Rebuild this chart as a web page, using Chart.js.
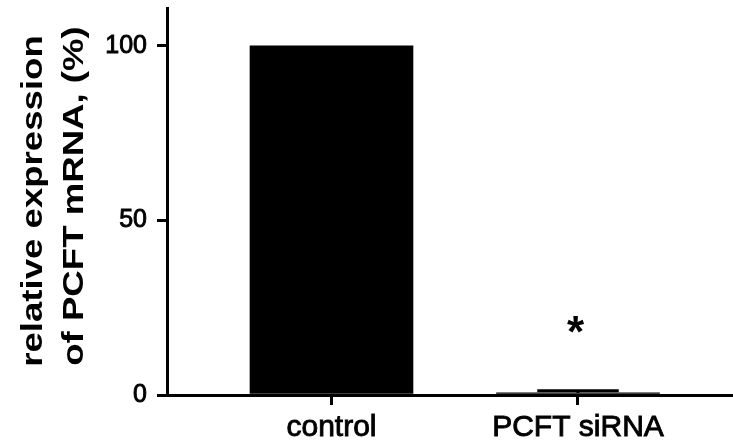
<!DOCTYPE html>
<html><head><meta charset="utf-8">
<script src="https://cdn.jsdelivr.net/npm/chart.js@4.4.0/dist/chart.umd.min.js"></script>
<style>html,body{margin:0;padding:0;background:#fff;}#wrap{width:733px;height:444px;}</style>
</head><body><div id="wrap"><canvas id="c" width="733" height="444"></canvas></div>
<script>
const categories = ['control', 'PCFT siRNA'];
const means = [100, 0.6];
const sd = [0, 0.6];
const significance = ['', '*'];
const yTicks = [0, 50, 100];
const yTitle = ['relative expression', 'of PCFT mRNA, (%)'];

const FONT = "'Liberation Sans', Arial, Helvetica, sans-serif";

const errorBars = {
  id: 'errorBars',
  afterDatasetsDraw(chart) {
    const ctx = chart.ctx, xs = chart.scales.x, ys = chart.scales.y;
    const meta = chart.getDatasetMeta(0);
    ctx.save();
    ctx.strokeStyle = '#000';
    ctx.fillStyle = '#000';
    ctx.lineWidth = 3;
    means.forEach((m, i) => {
      const bar = meta.data[i];
      const half = bar.width / 4;
      const x = xs.getPixelForValue(i + 1);
      const yTop = ys.getPixelForValue(m + sd[i]);
      const yM = ys.getPixelForValue(m);
      if (sd[i] > 0) {
        ctx.beginPath();
        ctx.moveTo(x, yM); ctx.lineTo(x, yTop);
        ctx.moveTo(x - half, yTop); ctx.lineTo(x + half, yTop);
        ctx.stroke();
      }
      if (significance[i]) {
        ctx.font = "bold 44px " + FONT;
        const mt = ctx.measureText(significance[i]);
        const cx = x - 2, cy = yTop - 66;
        const bx = cx - (mt.actualBoundingBoxRight - mt.actualBoundingBoxLeft) / 2;
        const by = cy - (mt.actualBoundingBoxDescent - mt.actualBoundingBoxAscent) / 2;
        ctx.textAlign = 'left';
        ctx.textBaseline = 'alphabetic';
        ctx.fillText(significance[i], bx, by);
      }
    });
    ctx.restore();
  }
};

const yTitlePlugin = {
  id: 'yTitlePlugin',
  afterDraw(chart) {
    const ctx = chart.ctx;
    const pos = [[42, 201], [83, 196]];
    ctx.save();
    ctx.fillStyle = '#000';
    ctx.font = "bold 30px " + FONT;
    ctx.textAlign = 'center';
    ctx.textBaseline = 'alphabetic';
    yTitle.forEach((t, i) => {
      ctx.save();
      ctx.translate(pos[i][0], pos[i][1]);
      ctx.rotate(-Math.PI / 2);
      ctx.scale(1.22, 1);
      ctx.fillText(t, 0, 0);
      ctx.restore();
    });
    ctx.restore();
  }
};

new Chart(document.getElementById('c'), {
  type: 'bar',
  data: {
    datasets: [{
      data: categories.map((c, i) => ({ x: i + 1, y: means[i] })),
      backgroundColor: '#000',
      borderWidth: 0,
      barThickness: 163
    }]
  },
  options: {
    responsive: false,
    animation: false,
    devicePixelRatio: 1,
    layout: { padding: { top: 8, left: 0, right: 0, bottom: 0 } },
    plugins: { legend: { display: false }, tooltip: { enabled: false } },
    scales: {
      x: {
        type: 'linear',
        offset: false,
        min: 0.3327,
        max: 2.6288,
        afterBuildTicks: s => { s.ticks = categories.map((c, i) => ({ value: i + 1 })); },
        ticks: {
          callback: v => categories[Math.round(v) - 1],
          font: { family: FONT, size: 30 },
          color: '#000',
          textStrokeColor: '#000',
          textStrokeWidth: 0.9,
          padding: 5,
          maxRotation: 0,
          autoSkip: false
        },
        grid: { offset: false, drawOnChartArea: false, drawTicks: true, tickLength: 10, lineWidth: 3, color: '#000' },
        border: { width: 3, color: '#000' },
        afterFit: s => { s.height = 49; s.paddingLeft = 0; s.paddingRight = 0; }
      },
      y: {
        min: 0,
        max: 110.8,
        afterBuildTicks: s => { s.ticks = yTicks.map(v => ({ value: v })); },
        ticks: {
          font: { family: FONT, size: 25 },
          color: '#000',
          textStrokeColor: '#000',
          textStrokeWidth: 0.9,
          padding: 10
        },
        grid: { drawOnChartArea: false, drawTicks: true, tickLength: 10, lineWidth: 3, color: '#000' },
        border: { width: 3, color: '#000' },
        afterFit: s => { s.width = 167; s.paddingTop = 0; s.paddingBottom = 0; }
      }
    }
  },
  plugins: [errorBars, yTitlePlugin]
});
</script>
</body></html>
